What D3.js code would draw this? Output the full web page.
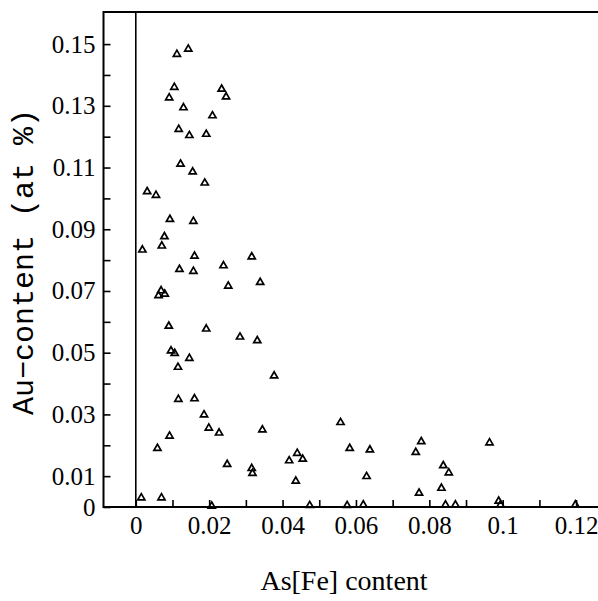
<!DOCTYPE html>
<html>
<head>
<meta charset="utf-8">
<script src="https://cdn.jsdelivr.net/npm/d3@7"></script>
<style>
  body { margin: 0; background: #fff; }
  svg { display: block; }
</style>
</head>
<body>
<div id="chart"></div>
<script>
// As[Fe] content (x) and Au content in at% (y)
var asFe = [
  0.0112, 0.0143, 0.0105, 0.0091, 0.0234, 0.0246, 0.0130, 0.0209, 0.0117, 0.0146,
  0.0192, 0.0122, 0.0155, 0.0188, 0.0031, 0.0055, 0.0093, 0.0157, 0.0078, 0.0071,
  0.0018, 0.0160, 0.0316, 0.0119, 0.0157, 0.0239, 0.0252, 0.0339, 0.0069, 0.0062,
  0.0079, 0.0090, 0.0192, 0.0284, 0.0331, 0.0096, 0.0106, 0.0146, 0.0115, 0.0377,
  0.0116, 0.0160, 0.0186, 0.0199, 0.0227, 0.0345, 0.0558, 0.0583, 0.0092, 0.0059,
  0.0249, 0.0316, 0.0318, 0.0418, 0.0440, 0.0455, 0.0436, 0.0015, 0.0070, 0.0207,
  0.0474, 0.0576, 0.0638, 0.0629, 0.0763, 0.0778, 0.0772, 0.0838, 0.0853, 0.0833,
  0.0964, 0.0620, 0.0844, 0.0871, 0.0989, 0.0994, 0.1198
];
var auContent = [
  0.1467, 0.1484, 0.1360, 0.1326, 0.1354, 0.1329, 0.1294, 0.1268, 0.1224, 0.1204,
  0.1208, 0.1111, 0.1086, 0.1050, 0.1022, 0.1010, 0.0932, 0.0926, 0.0876, 0.0846,
  0.0833, 0.0813, 0.0811, 0.0770, 0.0764, 0.0782, 0.0716, 0.0728, 0.0701, 0.0685,
  0.0690, 0.0586, 0.0577, 0.0551, 0.0539, 0.0506, 0.0498, 0.0482, 0.0453, 0.0425,
  0.0349, 0.0351, 0.0299, 0.0256, 0.0240, 0.0250, 0.0274, 0.0190, 0.0230, 0.0190,
  0.0138, 0.0125, 0.0109, 0.0150, 0.0174, 0.0155, 0.0084, 0.0030, 0.0030, 0.0003,
  0.0005, 0.0005, 0.0185, 0.0099, 0.0177, 0.0212, 0.0045, 0.0134, 0.0111, 0.0061,
  0.0208, 0.0007, 0.0007, 0.0007, 0.0019, 0.0007, 0.0007
];

var xTicks = [0, 0.01, 0.02, 0.03, 0.04, 0.05, 0.06, 0.07, 0.08, 0.09, 0.1, 0.11, 0.12];
var xTickLabels = ["0", "", "0.02", "", "0.04", "", "0.06", "", "0.08", "", "0.1", "", "0.12"];
var yTicks = [0, 0.01, 0.02, 0.03, 0.04, 0.05, 0.06, 0.07, 0.08, 0.09, 0.1, 0.11, 0.12, 0.13, 0.14, 0.15];
var yTickLabels = ["0", "0.01", "", "0.03", "", "0.05", "", "0.07", "", "0.09", "", "0.11", "", "0.13", "", "0.15"];

var W = 598, H = 601;
var plotL = 103.5, plotR = 612.8, plotT = 12, plotB = 507;

var svg = d3.select("#chart").append("svg")
    .attr("width", W)
    .attr("height", H);

svg.append("rect").attr("width", W).attr("height", H).attr("fill", "#fff");

var x = d3.scaleLinear().domain([-0.0088, 0.13]).range([plotL, plotR]);
var y = d3.scaleLinear().domain([0, 0.1604]).range([plotB, plotT]);

var data = asFe.map(function(d, i) { return {x: d, y: auContent[i]}; });

// axes, ticks pointing into the plot
var xAxis = svg.append("g")
    .attr("transform", "translate(0," + plotB + ")")
    .call(d3.axisBottom(x)
      .tickValues(xTicks)
      .tickSize(-7)
      .tickPadding(9)
      .tickFormat(function(d, i) { return xTickLabels[i]; }));

var yAxis = svg.append("g")
    .attr("transform", "translate(" + plotL + ",0)")
    .call(d3.axisLeft(y)
      .tickValues(yTicks)
      .tickSize(-7)
      .tickPadding(8)
      .tickFormat(function(d, i) { return yTickLabels[i]; }));

[xAxis, yAxis].forEach(function(g) {
  g.select(".domain").remove();
  g.selectAll(".tick line").attr("stroke", "#000").attr("stroke-width", 1.6);
  g.selectAll(".tick text")
    .attr("fill", "#000")
    .style("font-family", "'Liberation Serif', 'DejaVu Serif', serif")
    .style("font-size", "25px");
});

// frame
svg.append("rect")
    .attr("x", plotL)
    .attr("y", plotT)
    .attr("width", plotR - plotL)
    .attr("height", plotB - plotT)
    .attr("fill", "none")
    .attr("stroke", "#000")
    .attr("stroke-width", 2);

// zero line
svg.append("line")
    .attr("x1", x(0)).attr("x2", x(0))
    .attr("y1", plotT).attr("y2", plotB)
    .attr("stroke", "#000")
    .attr("stroke-width", 1.6);

// points
svg.append("g")
  .selectAll("path")
  .data(data)
  .enter()
  .append("path")
    .attr("transform", function(d) { return "translate(" + x(d.x) + "," + y(d.y) + ")"; })
    .attr("d", d3.symbol().type(d3.symbolTriangle).size(22))
    .attr("fill", "none")
    .attr("stroke", "#000")
    .attr("stroke-width", 1.7);

// axis titles
svg.append("text")
    .attr("transform", "translate(33,262) rotate(-90)")
    .attr("text-anchor", "middle")
    .style("font-family", "'Liberation Mono', 'DejaVu Sans Mono', monospace")
    .style("font-size", "30px")
    .text("Au\u2212content (at %)");

svg.append("text")
    .attr("x", 344)
    .attr("y", 590)
    .attr("text-anchor", "middle")
    .style("font-family", "'Liberation Serif', 'DejaVu Serif', serif")
    .style("font-size", "28px")
    .text("As[Fe] content");
</script>
</body>
</html>
